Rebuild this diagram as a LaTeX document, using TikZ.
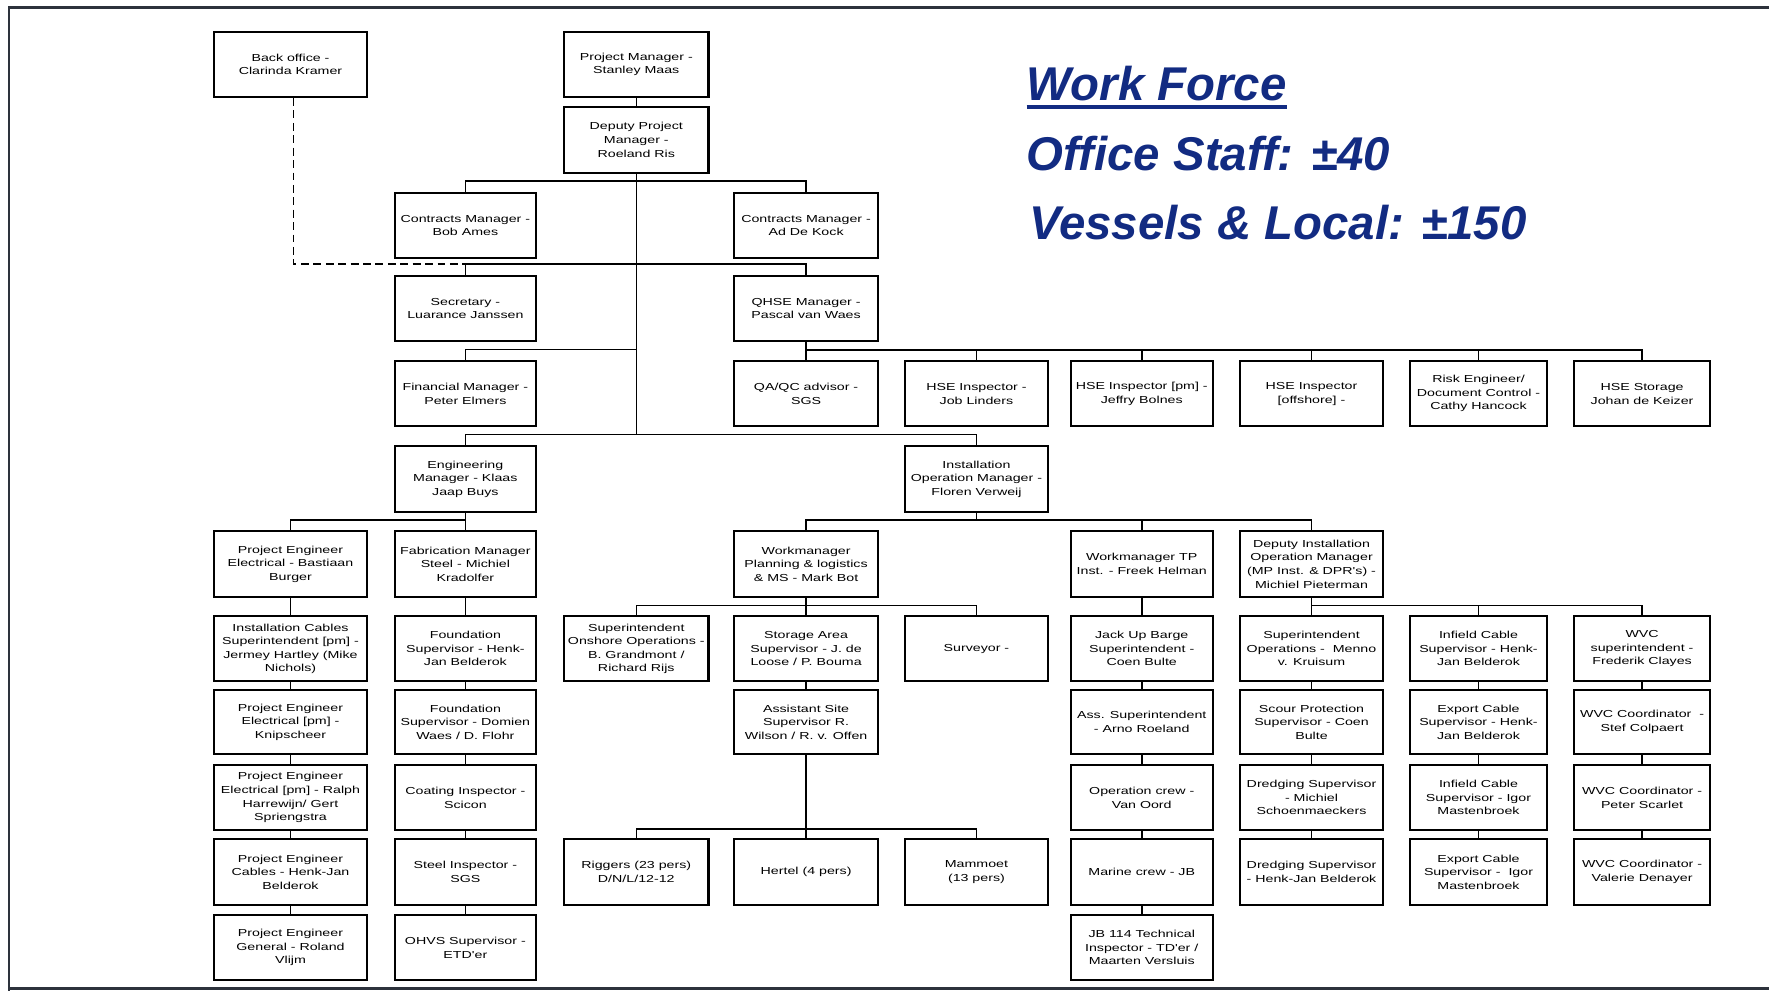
\documentclass[tikz,border=0pt]{standalone}
\usepackage{fontspec}
\setmainfont{Liberation Sans}
\newfontfamily\boxfont[FakeStretch=1.4]{Liberation Sans}
\newfontfamily\titlefont{Liberation Sans}
\definecolor{titleblue}{RGB}{18,43,130}
\definecolor{framegray}{RGB}{45,50,60}
\begin{document}
\begin{tikzpicture}[x=1pt,y=-1pt,
  box/.style={draw=black, line width=1.8pt, inner sep=0pt, minimum height=58pt,
    align=center, font=\boxfont\fontsize{9}{12}\selectfont, text=black},
  colA/.style={minimum width=135pt},
  colB/.style={minimum width=125pt},
  colC/.style={minimum width=128pt},
  colD/.style={minimum width=127pt},
  colE/.style={minimum width=127pt},
  colF/.style={minimum width=126pt},
  colG/.style={minimum width=127pt},
  colH/.style={minimum width=121pt},
  colI/.style={minimum width=121pt},
  link/.style={line width=1.4pt, draw=black},
  dotlink/.style={line width=1.4pt, draw=black, dash pattern=on 7pt off 4pt},
  title/.style={anchor=base west, inner sep=0pt, text=titleblue,
    font=\titlefont\bfseries\itshape\fontsize{42}{42}\selectfont}]
\useasboundingbox (0,0) rectangle (1568,878);
\fill[white] (0,0) rectangle (1568,878);
% frame
\draw[framegray, line width=2.5pt] (1568,7) -- (8,7) -- (8,878);
\draw[framegray, line width=2.5pt] (8,876) -- (1568,876);

% title
\node[title] (wf) at (910,89) {Work Force};
\draw[titleblue, line width=3.5pt] ([yshift=-6pt]wf.base west) -- ([yshift=-6pt]wf.base east);
\node[title] (os) at (910,151) {Office Staff: ±40};
\node[title] (vl) at (912,212) {Vessels \& Local: ±150};

% row 0-5
\node[box,colA] (bo) at (257.5,57) {Back office -\\Clarinda Kramer};
\node[box,colC] (pm) at (564,57) {Project Manager -\\Stanley Maas};
\node[box,colC] (dpm) at (564,124) {Deputy Project\\Manager -\\Roeland Ris};
\node[box,colB] (cm1) at (412.5,200) {Contracts Manager -\\Bob Ames};
\node[box,colD] (cm2) at (714.5,200) {Contracts Manager -\\Ad De Kock};
\node[box,colB] (sec) at (412.5,273.5) {Secretary -\\Luarance Janssen};
\node[box,colD] (qhse) at (714.5,273.5) {QHSE Manager -\\Pascal van Waes};
\node[box,colB] (fin) at (412.5,349) {Financial Manager -\\Peter Elmers};
\node[box,colD] (qa) at (714.5,349) {QA/QC advisor -\\SGS};
\node[box,colE] (hse1) at (865.5,349) {HSE Inspector -\\Job Linders};
\node[box,colF] (hse2) at (1012,349) {HSE Inspector [pm] -\\Jeffry Bolnes};
\node[box,colG] (hse3) at (1162.5,349) {HSE Inspector\\{[offshore]} -};
\node[box,colH] (risk) at (1310.5,349) {Risk Engineer/\\Document Control -\\Cathy Hancock};
\node[box,colI] (hses) at (1455.5,349) {HSE Storage\\Johan de Keizer};
\node[box,colB] (eng) at (412.5,424.5) {Engineering\\Manager - Klaas\\Jaap Buys};
\node[box,colE] (iom) at (865.5,424.5) {Installation\\Operation Manager -\\Floren Verweij};

% row 6
\node[box,colA] (pee) at (257.5,500) {Project Engineer\\Electrical - Bastiaan\\Burger};
\node[box,colB] (fab) at (412.5,500) {Fabrication Manager\\Steel - Michiel\\Kradolfer};
\node[box,colD] (wmp) at (714.5,500) {Workmanager\\Planning \& logistics\\\& MS - Mark Bot};
\node[box,colF] (wmtp) at (1012,500) {Workmanager TP\\Inst. - Freek Helman};
\node[box,colG] (diom) at (1162.5,500) {Deputy Installation\\Operation Manager\\(MP Inst. \& DPR's) -\\Michiel Pieterman};

% row 7
\node[box,colA] (ic) at (257.5,575) {Installation Cables\\Superintendent [pm] -\\Jermey Hartley (Mike\\Nichols)};
\node[box,colB] (fs1) at (412.5,575) {Foundation\\Supervisor - Henk-\\Jan Belderok};
\node[box,colC] (sup) at (564,575) {Superintendent\\Onshore Operations -\\B. Grandmont /\\Richard Rijs};
\node[box,colD] (sa) at (714.5,575) {Storage Area\\Supervisor - J. de\\Loose / P. Bouma};
\node[box,colE] (surv) at (865.5,575) {Surveyor -};
\node[box,colF] (jub) at (1012,575) {Jack Up Barge\\Superintendent -\\Coen Bulte};
\node[box,colG] (so) at (1162.5,575) {Superintendent\\Operations -~~Menno\\v. Kruisum};
\node[box,colH] (ic1) at (1310.5,575) {Infield Cable\\Supervisor - Henk-\\Jan Belderok};
\node[box,colI] (wvcs) at (1455.5,575) {WVC\\superintendent -\\Frederik Clayes};

% row 8
\node[box,colA,minimum height=56pt] (pee2) at (257.5,640) {Project Engineer\\Electrical [pm] -\\Knipscheer};
\node[box,colB,minimum height=56pt] (fs2) at (412.5,640) {Foundation\\Supervisor - Domien\\Waes / D. Flohr};
\node[box,colD,minimum height=56pt] (asst) at (714.5,640) {Assistant Site\\Supervisor R.\\Wilson / R. v. Offen};
\node[box,colF,minimum height=56pt] (assup) at (1012,640) {Ass. Superintendent\\- Arno Roeland};
\node[box,colG,minimum height=56pt] (scour) at (1162.5,640) {Scour Protection\\Supervisor - Coen\\Bulte};
\node[box,colH,minimum height=56pt] (ec1) at (1310.5,640) {Export Cable\\Supervisor - Henk-\\Jan Belderok};
\node[box,colI,minimum height=56pt] (wvc1) at (1455.5,640) {WVC Coordinator~ -\\Stef Colpaert};

% row 9
\node[box,colA] (pee3) at (257.5,707) {Project Engineer\\Electrical [pm] - Ralph\\Harrewijn/ Gert\\Spriengstra};
\node[box,colB] (coat) at (412.5,707) {Coating Inspector -\\Scicon};
\node[box,colF] (opc) at (1012,707) {Operation crew -\\Van Oord};
\node[box,colG] (dr1) at (1162.5,707) {Dredging Supervisor\\- Michiel\\Schoenmaeckers};
\node[box,colH] (ic2) at (1310.5,707) {Infield Cable\\Supervisor - Igor\\Mastenbroek};
\node[box,colI] (wvc2) at (1455.5,707) {WVC Coordinator -\\Peter Scarlet};

% row 10
\node[box,colA] (pec) at (257.5,773) {Project Engineer\\Cables - Henk-Jan\\Belderok};
\node[box,colB] (steel) at (412.5,773) {Steel Inspector -\\SGS};
\node[box,colC] (rig) at (564,773) {Riggers (23 pers)\\D/N/L/12-12};
\node[box,colD] (hert) at (714.5,773) {Hertel (4 pers)};
\node[box,colE] (mamm) at (865.5,773) {Mammoet\\(13 pers)};
\node[box,colF] (mar) at (1012,773) {Marine crew - JB};
\node[box,colG] (dr2) at (1162.5,773) {Dredging Supervisor\\- Henk-Jan Belderok};
\node[box,colH] (ec2) at (1310.5,773) {Export Cable\\Supervisor -~~Igor\\Mastenbroek};
\node[box,colI] (wvc3) at (1455.5,773) {WVC Coordinator -\\Valerie Denayer};

% row 11
\node[box,colA] (peg) at (257.5,840) {Project Engineer\\General - Roland\\Vlijm};
\node[box,colB] (ohvs) at (412.5,840) {OHVS Supervisor -\\ETD'er};
\node[box,colF] (jb) at (1012,840) {JB 114 Technical\\Inspector - TD'er /\\Maarten Versluis};

% connectors
\draw[link] (pm.south) -- (dpm.north);
\foreach \c in {cm1,cm2,sec,qhse,fin,eng,iom}
  \draw[link] (dpm.south) |- ([yshift=9.5pt]\c.north) -- (\c.north);
\draw[dotlink] ([xshift=2.5pt]bo.south) |- ([yshift=9.5pt]sec.north);
\foreach \c in {qa,hse1,hse2,hse3,risk,hses}
  \draw[link] (qhse.south) |- ([yshift=9pt]\c.north) -- (\c.north);
\foreach \c in {pee,fab}
  \draw[link] (eng.south) |- ([yshift=9pt]\c.north) -- (\c.north);
\foreach \c in {wmp,wmtp,diom}
  \draw[link] (iom.south) |- ([yshift=9pt]\c.north) -- (\c.north);
\foreach \c in {sup,sa,surv}
  \draw[link] (wmp.south) |- ([yshift=8.5pt]\c.north) -- (\c.north);
\foreach \c in {rig,hert,mamm}
  \draw[link] (asst.south) |- ([yshift=8.5pt]\c.north) -- (\c.north);
\foreach \c in {so,ic1,wvcs}
  \draw[link] (diom.south) |- ([yshift=8.5pt]\c.north) -- (\c.north);
\draw[link] (sa.south) -- (asst.north);
\foreach \a/\b in {pee/ic,ic/pee2,pee2/pee3,pee3/pec,pec/peg,
                   fab/fs1,fs1/fs2,fs2/coat,coat/steel,steel/ohvs,
                   wmtp/jub,jub/assup,assup/opc,opc/mar,mar/jb,
                   so/scour,scour/dr1,dr1/dr2,
                   ic1/ec1,ec1/ic2,ic2/ec2,
                   wvcs/wvc1,wvc1/wvc2,wvc2/wvc3}
  \draw[link] (\a.south) -- (\b.north);
\end{tikzpicture}
\end{document}
